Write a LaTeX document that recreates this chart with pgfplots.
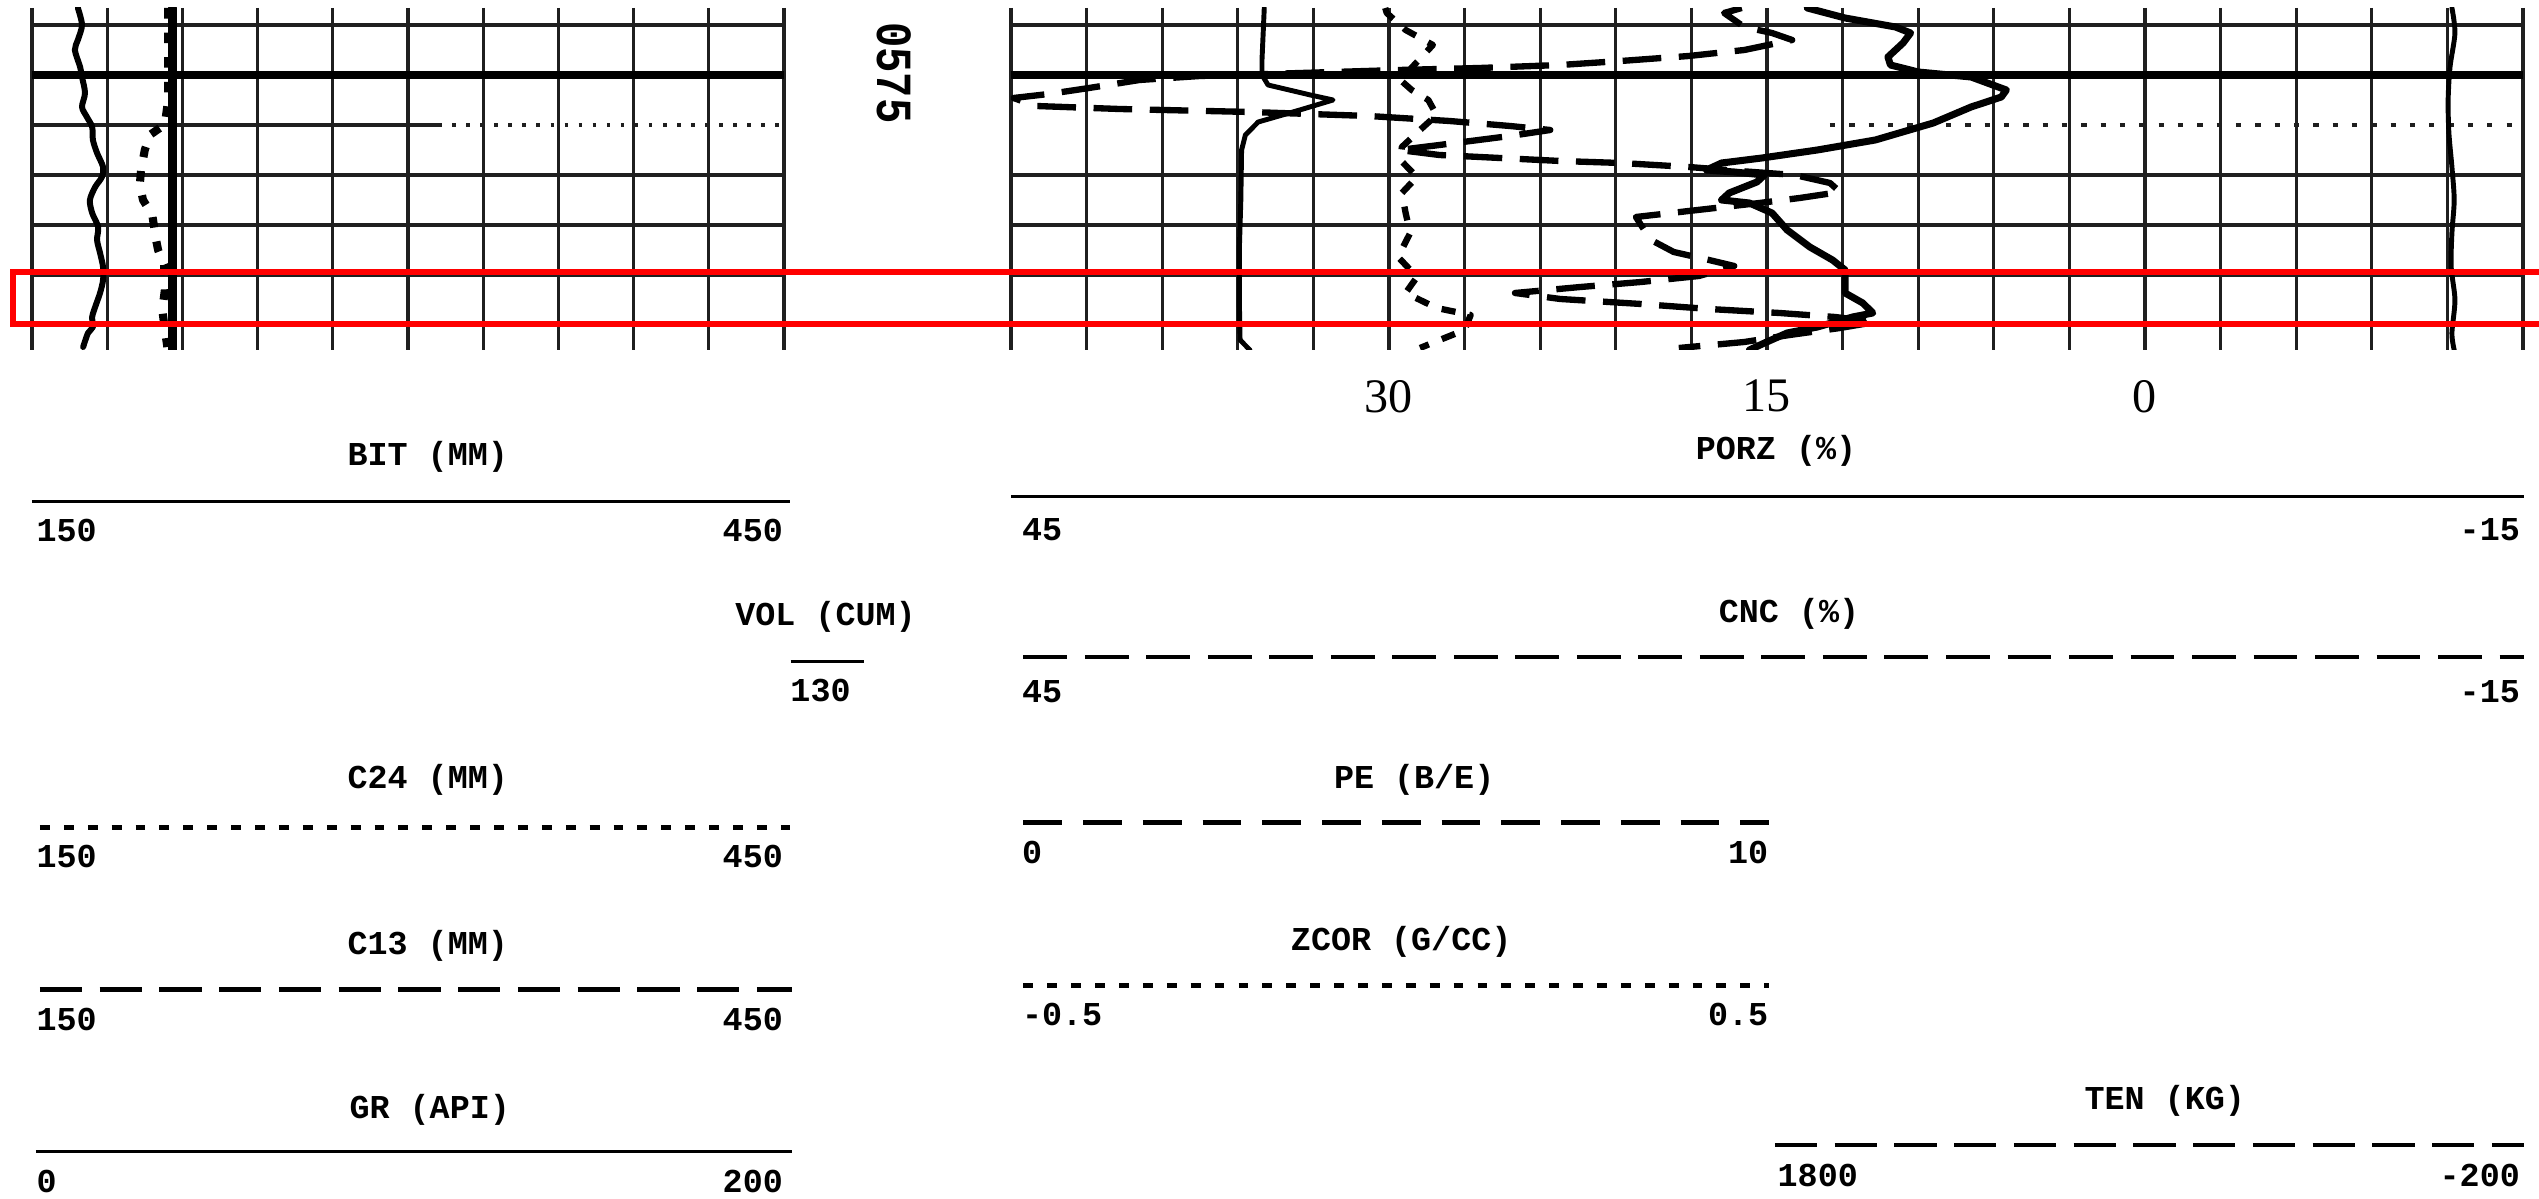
\documentclass[border=0pt]{standalone}
\usepackage{fontspec}
\usepackage{graphicx}
\usepackage{pgfplots}
\pgfplotsset{compat=1.18}
\newfontfamily\hdr{Liberation Mono}
\newfontfamily\tms{Liberation Serif}
\newcommand\hf{\hdr\bfseries\fontsize{9.5}{9.5}\selectfont}

\pgfplotsset{
  track/.style={
    scale only axis, anchor=north west, height=3.42cm,
    ymin=573.66, ymax=580.5, y dir=reverse,
    axis line style={draw=none}, major tick length=0pt,
    xticklabels={}, yticklabels={},
    ytick={574,577,578,579,580},
    grid=major, major grid style={black!88, line width=0.9pt},
  },
  layer/.style={
    scale only axis, anchor=north west, height=3.42cm,
    ymin=573.66, ymax=580.5, y dir=reverse, hide axis,
  },
  curve/.style={black, line width=1.8pt, line join=round, line cap=round},
  longdash/.style={curve, line cap=butt, dash pattern=on 11pt off 5pt},
  shortdash/.style={curve, line cap=butt, dash pattern=on 4pt off 4pt},
}

\begin{document}
\begin{tikzpicture}
\path[use as bounding box] (0,0) rectangle (25.39cm,-11.99cm);

% ---------------- left track: GR (0-200 API) ----------------
\begin{axis}[track, at={(0.32cm,-0.08cm)}, width=7.52cm,
  xmin=0, xmax=200, xtick={0,20,...,200}]
  \draw[black, line width=2.5pt] (axis cs:0,575) -- (axis cs:200,575);
  \draw[black!88, line width=0.9pt] (axis cs:0,576) -- (axis cs:108,576);
  \draw[black!88, line width=0.9pt, dash pattern=on 1pt off 3pt] (axis cs:108,576) -- (axis cs:200,576);
  \addplot[curve, smooth, tension=0.5, line width=1.7pt] table[x=v, y=d, row sep=\\] {
    d v \\
    573.66 12.2 \\ 574.00 13.3 \\ 574.30 12.2 \\ 574.50 11.4 \\
    574.84 12.8 \\ 575.04 13.3 \\ 575.36 14.1 \\ 575.64 13.3 \\
    575.84 14.6 \\ 576.04 16.0 \\ 576.30 16.2 \\ 576.56 17.3 \\
    576.84 18.9 \\ 577.04 18.6 \\ 577.24 16.8 \\ 577.50 15.4 \\
    577.76 16.0 \\ 578.04 17.6 \\ 578.30 17.3 \\ 578.56 18.1 \\
    578.84 18.9 \\ 579.10 18.9 \\ 579.36 18.1 \\ 579.64 16.8 \\
    579.84 16.0 \\ 580.04 16.2 \\ 580.16 14.9 \\ 580.44 13.6 \\
  };
\end{axis}

% ---------------- left track: BIT and calipers (150-450 mm) ----------------
\begin{axis}[layer, at={(0.32cm,-0.08cm)}, width=7.52cm, xmin=150, xmax=450]
  % BIT
  \addplot[curve, line width=2.7pt] table[x=v, y=d, row sep=\\] {
    d v \\ 573.66 206 \\ 580.50 206 \\
  };
  % caliper
  \addplot[curve, line cap=butt, line width=2.3pt, dash pattern=on 3pt off 4pt] table[x=v, y=d, row sep=\\] {
    d v \\
    573.66 204.3 \\ 575.50 204.3 \\ 575.99 203.0 \\ 576.20 197.0 \\
    576.50 195.0 \\ 576.90 193.5 \\ 577.20 193.0 \\ 577.50 194.3 \\
    577.80 198.0 \\ 578.30 199.5 \\ 578.50 200.3 \\ 578.80 202.7 \\
    579.30 203.0 \\ 579.70 202.0 \\ 580.10 203.0 \\ 580.44 204.0 \\
  };
\end{axis}

% ---------------- right track: PORZ / CNC (45 to -15 %) ----------------
\begin{axis}[track, at={(10.11cm,-0.08cm)}, width=15.12cm,
  xmin=-15, xmax=45, x dir=reverse, xtick={-15,-12,...,45},
  extra x ticks={30,15,0},
  extra x tick labels={30,{\raisebox{-1pt}{15}},{\raisebox{-2.5pt}{0}}},
  extra x tick style={grid=none,
    xticklabel style={font=\tms\fontsize{13.7}{14}\selectfont, yshift=-5pt}}]
  \draw[black, line width=2.5pt] (axis cs:45,575) -- (axis cs:-15,575);
  \draw[black!88, line width=0.9pt, dash pattern=on 1.5pt off 4pt] (axis cs:12.5,576) -- (axis cs:-15,576);
  % PORZ
  \addplot[curve, line width=2pt] table[x=v, y=d, row sep=\\] {
    d v \\
    573.66 13.4 \\ 573.86 11.9 \\ 574.04 9.9 \\ 574.16 9.3 \\
    574.36 9.6 \\ 574.64 10.2 \\ 574.80 10.1 \\ 574.94 9.0 \\
    575.04 6.9 \\ 575.30 5.5 \\ 575.44 5.7 \\ 575.64 6.9 \\
    575.96 8.4 \\ 576.30 10.7 \\ 576.50 13.0 \\ 576.66 15.2 \\
    576.76 16.8 \\ 576.90 17.4 \\ 576.94 16.3 \\ 577.00 15.1 \\
    577.14 15.4 \\ 577.36 16.5 \\ 577.50 16.8 \\ 577.56 15.7 \\
    577.76 14.8 \\ 578.10 14.2 \\ 578.44 13.3 \\ 578.70 12.4 \\
    578.90 11.9 \\ 579.36 11.9 \\ 579.56 11.2 \\ 579.76 10.8 \\
    579.84 11.6 \\ 580.04 13.0 \\ 580.16 14.2 \\ 580.36 15.1 \\
    580.50 15.7 \\
  };
  % CNC
  \addplot[longdash] table[x=v, y=d, row sep=\\] {
    d v \\
    573.66 16.0 \\ 573.76 16.7 \\ 574.04 15.9 \\ 574.16 14.8 \\
    574.30 14.0 \\ 574.50 15.9 \\ 574.62 18.1 \\ 574.72 20.8 \\
    574.80 23.2 \\ 574.86 26.4 \\ 574.90 29.6 \\ 574.96 33.5 \\
    575.02 37.5 \\ 575.10 39.9 \\ 575.26 41.9 \\ 575.38 43.5 \\
    575.46 44.9 \\ 575.62 44.0 \\ 575.68 40.7 \\ 575.74 35.5 \\
    575.82 30.8 \\ 575.92 27.6 \\ 576.02 25.2 \\ 576.10 23.6 \\
    576.22 25.2 \\ 576.40 28.0 \\ 576.50 29.6 \\ 576.60 28.0 \\
    576.66 25.6 \\ 576.72 23.2 \\ 576.76 20.8 \\ 576.84 18.1 \\
    576.92 16.1 \\ 577.00 13.9 \\ 577.16 12.5 \\ 577.34 12.1 \\
    577.46 13.7 \\ 577.56 15.3 \\ 577.72 18.1 \\ 577.84 20.2 \\
    578.00 20.0 \\ 578.30 19.6 \\ 578.54 18.7 \\ 578.70 17.3 \\
    578.82 16.3 \\ 579.02 17.7 \\ 579.14 20.0 \\ 579.24 22.4 \\
    579.36 25.0 \\ 579.48 23.2 \\ 579.58 20.0 \\ 579.68 17.3 \\
    579.76 14.5 \\ 579.84 12.3 \\ 579.94 10.7 \\ 580.06 12.1 \\
    580.20 14.1 \\ 580.34 15.9 \\ 580.46 18.5 \\
  };
\end{axis}

% ---------------- right track: PE (0-10 b/e over the left half) ----------------
\begin{axis}[layer, at={(10.11cm,-0.08cm)}, width=15.12cm, xmin=0, xmax=20]
  \addplot[curve, line width=1.4pt] table[x=v, y=d, row sep=\\] {
    d v \\
    573.66 3.35 \\ 574.70 3.32 \\ 575.00 3.32 \\ 575.20 3.40 \\
    575.40 3.96 \\ 575.50 4.26 \\ 575.70 3.82 \\ 575.94 3.27 \\
    576.20 3.10 \\ 576.50 3.05 \\ 577.50 3.04 \\ 578.50 3.02 \\
    579.50 3.02 \\ 580.30 3.03 \\ 580.50 3.16 \\
  };
\end{axis}

% ---------------- right track: ZCOR (-0.5 to 0.5 g/cc over the left half) ----------------
\begin{axis}[layer, at={(10.11cm,-0.08cm)}, width=15.12cm, xmin=-0.5, xmax=1.5]
  \addplot[shortdash] table[x=v, y=d, row sep=\\] {
    d v \\
    573.66 -0.005 \\ 573.76 -0.003 \\ 574.10 0.022 \\ 574.40 0.058 \\
    574.74 0.037 \\ 575.10 0.015 \\ 575.30 0.030 \\ 575.50 0.052 \\
    575.80 0.063 \\ 576.10 0.041 \\ 576.44 0.017 \\ 576.70 0.015 \\
    577.04 0.037 \\ 577.36 0.017 \\ 577.76 0.022 \\ 578.16 0.028 \\
    578.64 0.012 \\ 579.04 0.037 \\ 579.36 0.022 \\ 579.66 0.063 \\
    579.80 0.108 \\ 580.10 0.100 \\ 580.30 0.067 \\ 580.46 0.041 \\
  };
\end{axis}

% ---------------- right track: TEN (1800 to -200 kg over the right half) ----------------
\begin{axis}[layer, at={(10.11cm,-0.08cm)}, width=15.12cm, xmin=-200, xmax=3800, x dir=reverse]
  \addplot[curve, line width=1.4pt, smooth] table[x=v, y=d, row sep=\\] {
    d v \\
    573.66 -12 \\ 574.16 -20 \\ 574.84 -7 \\ 575.50 -2 \\
    576.16 -4 \\ 576.84 -12 \\ 577.50 -18 \\ 578.16 -12 \\
    578.84 -10 \\ 579.50 -20 \\ 580.16 -12 \\ 580.50 -18 \\
  };
\end{axis}

\begin{scope}[x=0.01cm, y=-0.01cm]
  % depth number
  \node[font=\hdr\bfseries\fontsize{12}{12}\selectfont, rotate=-90, inner sep=0] at (895,73) {\scalebox{1}[1.2]{0575}};

  % scale headings, left column
  \begin{scope}[every node/.style={font=\hf, inner sep=0}]
    \node[anchor=base] at (428,466) {BIT (MM)};
    \draw[line width=1pt] (32,502) -- (790,502);
    \node[anchor=base west] at (36,542) {150};
    \node[anchor=base east] at (784,542) {450};

    \node[anchor=base] at (826,626) {VOL (CUM)};
    \draw[line width=1pt] (791,662) -- (864,662);
    \node[anchor=base] at (821,702) {130};

    \node[anchor=base] at (428,789) {C24 (MM)};
    \draw[line width=1.2pt, dash pattern=on 2.8pt off 4pt] (40,828) -- (790,828);
    \node[anchor=base west] at (36,868) {150};
    \node[anchor=base east] at (784,868) {450};

    \node[anchor=base] at (428,955) {C13 (MM)};
    \draw[line width=1.2pt, dash pattern=on 12pt off 5pt] (40,990) -- (792,990);
    \node[anchor=base west] at (36,1031) {150};
    \node[anchor=base east] at (784,1031) {450};

    \node[anchor=base] at (430,1119) {GR (API)};
    \draw[line width=1pt] (36,1152) -- (792,1152);
    \node[anchor=base west] at (36,1193) {0};
    \node[anchor=base east] at (784,1193) {200};

    % scale headings, right column
    \node[anchor=base] at (1777,460) {PORZ (\%)};
    \draw[line width=1pt] (1012,497) -- (2525,497);
    \node[anchor=base west] at (1022,541) {45};
    \node[anchor=base east] at (2522,541) {-15};

    \node[anchor=base] at (1790,623) {CNC (\%)};
    \draw[line width=1.2pt, dash pattern=on 12.5pt off 5pt] (1024,657) -- (2525,657);
    \node[anchor=base west] at (1022,703) {45};
    \node[anchor=base east] at (2522,703) {-15};

    \node[anchor=base] at (1415,789) {PE (B/E)};
    \draw[line width=1.2pt, dash pattern=on 11pt off 6pt] (1024,823) -- (1770,823);
    \node[anchor=base west] at (1022,864) {0};
    \node[anchor=base east] at (1770,864) {10};

    \node[anchor=base] at (1402,951) {ZCOR (G/CC)};
    \draw[line width=1.2pt, dash pattern=on 2.8pt off 4pt] (1024,986) -- (1770,986);
    \node[anchor=base west] at (1022,1026) {-0.5};
    \node[anchor=base east] at (1770,1026) {0.5};

    \node[anchor=base] at (2166,1110) {TEN (KG)};
    \draw[line width=1.2pt, dash pattern=on 12pt off 5pt] (1776,1146) -- (2525,1146);
    \node[anchor=base west] at (1778,1187) {1800};
    \node[anchor=base east] at (2522,1187) {-200};
  \end{scope}

  % highlighted interval
  \draw[red, line width=1.6pt] (2560,272) -- (13,272) -- (13,324) -- (2560,324);
\end{scope}
\end{tikzpicture}
\end{document}
